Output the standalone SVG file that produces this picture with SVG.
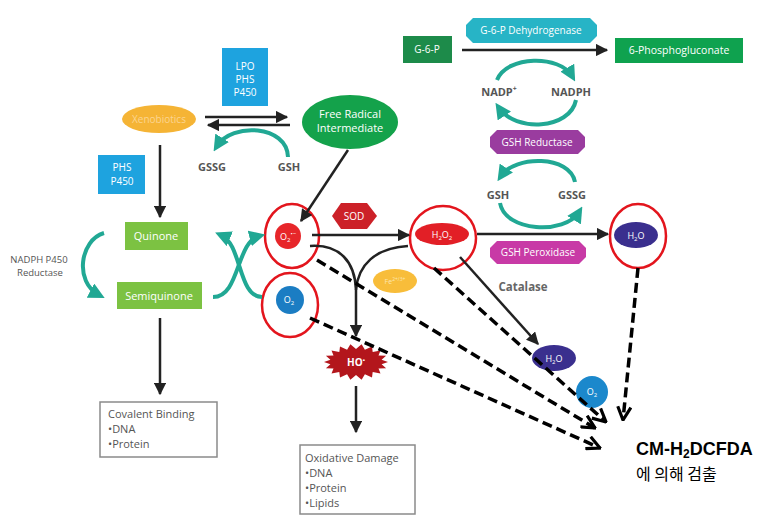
<svg xmlns="http://www.w3.org/2000/svg" width="777" height="523" viewBox="0 0 777 523">
<defs>
<style>
text{font-family:"Open Sans","Liberation Sans",Arial,sans-serif}
.w{fill:#fff;text-anchor:middle;font-size:10px}
.lab{fill:#555;font-size:11px;font-weight:bold;text-anchor:middle}
.gr{fill:#555;font-size:11px}
.bx{fill:#555;font-size:11px}
.blk{stroke:#222;stroke-width:2.5;fill:none}
.teal{stroke:#21a894;stroke-width:4;fill:none}
.dash{stroke:#000;stroke-width:3.5;fill:none;stroke-dasharray:10,5}
.ring{fill:none;stroke:#e3151d;stroke-width:2.5}
.box{fill:#fff;stroke:#8a8a8a;stroke-width:1.5}
</style>
<marker id="ab" viewBox="0 0 10 10" refX="9" refY="5" markerWidth="5" markerHeight="5" orient="auto"><path d="M0,0 L10,5 L0,10 z" fill="#222"/></marker>
<marker id="at" viewBox="0 0 10 10" refX="6" refY="5" markerWidth="4" markerHeight="4" orient="auto"><path d="M0,0 L10,5 L0,10 z" fill="#21a894"/></marker>
<marker id="ad" viewBox="0 0 12 12" refX="11" refY="6" markerWidth="4.5" markerHeight="4.5" orient="auto"><path d="M1,1 L11,6 L1,11" fill="none" stroke="#000" stroke-width="2.4"/></marker>
</defs>
<rect width="777" height="523" fill="#fff"/>

<g id="lpo"><rect x="222" y="48" width="46" height="58" fill="#1ea3df"/><text class="w" x="245" y="70">LPO</text><text class="w" x="245" y="83">PHS</text><text class="w" x="245" y="96">P450</text></g>
<g id="phs"><rect x="98" y="155" width="47" height="39" fill="#1ea3df"/><text class="w" x="122" y="171">PHS</text><text class="w" x="122" y="185">P450</text></g>
<g id="xeno"><ellipse cx="159" cy="119" rx="37" ry="14" fill="#f5b435"/><text class="w" x="159" y="123" style="fill:#fcd590">Xenobiotics</text></g>
<g id="fri"><ellipse cx="350" cy="122" rx="48" ry="27" fill="#14a24b"/><text class="w" x="350" y="118" style="font-size:11px">Free Radical</text><text class="w" x="350" y="132" style="font-size:11px">Intermediate</text></g>
<g id="quinone"><rect x="125" y="222" width="63" height="28" fill="#7cc242"/><text class="w" x="156" y="240" style="font-size:11px">Quinone</text></g>
<g id="semiquinone"><rect x="117" y="282" width="85" height="27" fill="#7cc242"/><text class="w" x="159" y="300" style="font-size:11px">Semiquinone</text></g>
<g id="reductase"><text class="gr" x="39" y="263" text-anchor="middle" style="font-size:9.5px">NADPH P450</text><text class="gr" x="40" y="276" text-anchor="middle" style="font-size:9.5px">Reductase</text></g>
<g id="covalent"><rect class="box" x="100" y="402" width="117" height="55"/><text class="bx" x="108" y="418">Covalent Binding</text><text class="bx" x="108" y="433">•DNA</text><text class="bx" x="108" y="448">•Protein</text></g>
<g id="oxdamage"><rect class="box" x="300" y="445" width="115" height="69"/><text class="bx" x="305" y="462">Oxidative Damage</text><text class="bx" x="305" y="477">•DNA</text><text class="bx" x="305" y="492">•Protein</text><text class="bx" x="305" y="507">•Lipids</text></g>

<g id="o2minus"><circle cx="288" cy="236" r="13" fill="#e7262a"/><text class="w" x="288" y="240" style="font-size:9px">O<tspan font-size="6" dy="2">2</tspan><tspan font-size="6" dy="-6">•−</tspan></text><ellipse class="ring" cx="292" cy="236" rx="27" ry="32"/></g>
<g id="o2"><circle cx="290" cy="300" r="14" fill="#1b7dc3"/><text class="w" x="289" y="303" style="font-size:9px">O<tspan font-size="6" dy="2">2</tspan></text><ellipse class="ring" cx="290" cy="305" rx="28" ry="32"/></g>
<g id="sod"><polygon points="332,216 341,203 367,203 377,216 367,229 341,229" fill="#cc2128"/><text class="w" x="354" y="220">SOD</text></g>
<g id="h2o2"><ellipse cx="442" cy="234" rx="27" ry="11" fill="#e21f26"/><text class="w" x="442" y="238" style="font-size:9px">H<tspan font-size="6" dy="2">2</tspan><tspan dy="-2">O</tspan><tspan font-size="6" dy="2">2</tspan></text><ellipse class="ring" cx="443" cy="238" rx="33" ry="32"/></g>
<g id="fe"><ellipse cx="395" cy="281" rx="22" ry="12" fill="#f8bd3a"/><text class="w" x="395" y="284" style="font-size:7px;fill:#fde6b0">Fe<tspan font-size="5" dy="-3">2+/3+</tspan></text></g>
<g id="ho"><polygon fill="#b3161c" points="388,362 381.6,364.3 386.1,368.2 378.5,368.5 380.5,373.6 372.7,372 372,377.6 364.9,374.2 361.6,379.7 356,375 350.4,379.7 347.1,374.2 340,377.6 339.3,372 331.5,373.6 333.5,368.5 325.9,368.2 330.4,364.3 324,362 330.4,359.7 325.9,355.8 333.5,355.5 331.5,350.4 339.3,352 340,346.4 347.1,349.8 350.4,344.3 356,349 361.6,344.3 364.9,349.8 372,346.4 372.7,352 380.5,350.4 378.5,355.5 386.1,355.8 381.6,359.7"/><text class="w" x="356" y="366" style="font-size:10px;font-weight:bold">HO<tspan font-size="6" dy="-4">•</tspan></text></g>

<g id="g6p"><rect x="403" y="36" width="49" height="27" fill="#1d8b4a"/><text class="w" x="427" y="53">G-6-P</text></g>
<g id="g6pdh"><polygon points="473,18 590,18 597,25 597,36 590,43 473,43 466,36 466,25" fill="#27b4c6"/><text class="w" x="531" y="34">G-6-P Dehydrogenase</text></g>
<g id="pgluc"><rect x="615" y="38" width="128" height="25" fill="#0fa24f"/><text class="w" x="679" y="54" style="font-size:10.5px">6-Phosphogluconate</text></g>
<g id="nadp"><text class="lab" x="499" y="96">NADP<tspan font-size="7" dy="-5">+</tspan></text><text class="lab" x="571" y="96">NADPH</text></g>
<g id="gshred"><polygon points="497,130 578,130 585,137 585,147 578,154 497,154 490,147 490,137" fill="#9a3c9f"/><text class="w" x="537" y="146">GSH Reductase</text></g>
<g id="gsh2"><text class="lab" x="498" y="199">GSH</text><text class="lab" x="572" y="199">GSSG</text></g>
<g id="gshperox"><polygon points="497,241 579,241 586,248 586,257 579,264 497,264 490,257 490,248" fill="#c83aa6"/><text class="w" x="538" y="256">GSH Peroxidase</text></g>
<g id="h2o"><ellipse cx="636" cy="235" rx="22" ry="13" fill="#3a2f8e"/><text class="w" x="636" y="239" style="font-size:9px">H<tspan font-size="6" dy="2">2</tspan><tspan dy="-2">O</tspan></text><ellipse class="ring" cx="638" cy="236" rx="28" ry="32"/></g>
<g id="catalase"><text x="523" y="291" text-anchor="middle" style="font-size:11.5px;font-weight:bold;fill:#666">Catalase</text></g>
<g id="h2o-b"><ellipse cx="554" cy="358" rx="22" ry="13" fill="#3a2f8e"/><text class="w" x="554" y="362" style="font-size:9px">H<tspan font-size="6" dy="2">2</tspan><tspan dy="-2">O</tspan></text></g>
<g id="o2-b"><circle cx="592" cy="392" r="16" fill="#1b88cc"/><text class="w" x="592" y="395" style="font-size:9px">O<tspan font-size="6" dy="2">2</tspan></text></g>
<g id="gsh1"><text class="lab" x="212" y="171">GSSG</text><text class="lab" x="289" y="171">GSH</text></g>
<g id="detect"><text x="636" y="455" style="font-family:'Liberation Sans',Arial,sans-serif;font-size:18px;font-weight:bold;fill:#000">CM-H<tspan font-size="12" dy="3">2</tspan><tspan dy="-3">DCFDA</tspan></text><text x="636" y="480" style="font-family:'Noto Sans CJK KR','Liberation Sans',sans-serif;font-size:16px;fill:#000">에 의해 검출</text></g>

<g id="connectors">
<path class="blk" d="M205,117 H287" marker-end="url(#ab)"/>
<path class="blk" d="M290,125 H208" marker-end="url(#ab)"/>
<path class="blk" d="M160,145 V217" marker-end="url(#ab)"/>
<path class="blk" d="M160,318 V394" marker-end="url(#ab)"/>
<path class="blk" d="M348,150 L301,221" marker-end="url(#ab)"/>
<path class="blk" d="M312,235 H409" marker-end="url(#ab)"/>
<path class="blk" d="M310,246 C340,244 355,262 356,290 L356,336" marker-end="url(#ab)"/>
<path class="blk" d="M408,246 C375,248 358,265 356,290"/>
<path class="blk" d="M356,386 V432" marker-end="url(#ab)"/>
<path class="blk" d="M462,50 H607" marker-end="url(#ab)"/>
<path class="blk" d="M477,234 H608" marker-end="url(#ab)"/>
<path class="blk" d="M460,257 L538,344" marker-end="url(#ab)"/>
<path class="teal" d="M288,157 C287,125 232,122 217,146" marker-end="url(#at)"/>
<path class="teal" d="M104,233 C80,240 74,282 99,295" marker-end="url(#at)"/>
<path class="teal" d="M213,297 C240,297 236,242 259,236" marker-end="url(#at)"/>
<path class="teal" d="M262,297 C238,297 242,244 221,235" marker-end="url(#at)"/>
<path class="teal" d="M497,80 C507,55 560,55 572,76" marker-end="url(#at)"/>
<path class="teal" d="M576,100 C570,130 515,132 499,108" marker-end="url(#at)"/>
<path class="teal" d="M575,182 C570,155 515,155 501,176" marker-end="url(#at)"/>
<path class="teal" d="M500,203 C505,232 565,235 579,212" marker-end="url(#at)"/>
<path class="dash" d="M317,260 L595,428" marker-end="url(#ad)"/>
<path class="dash" d="M310,318 L600,448" marker-end="url(#ad)"/>
<path class="dash" d="M434,268 L606,422" marker-end="url(#ad)"/>
<path class="dash" d="M638,268 L623,420" marker-end="url(#ad)"/>
</g>
</svg>
